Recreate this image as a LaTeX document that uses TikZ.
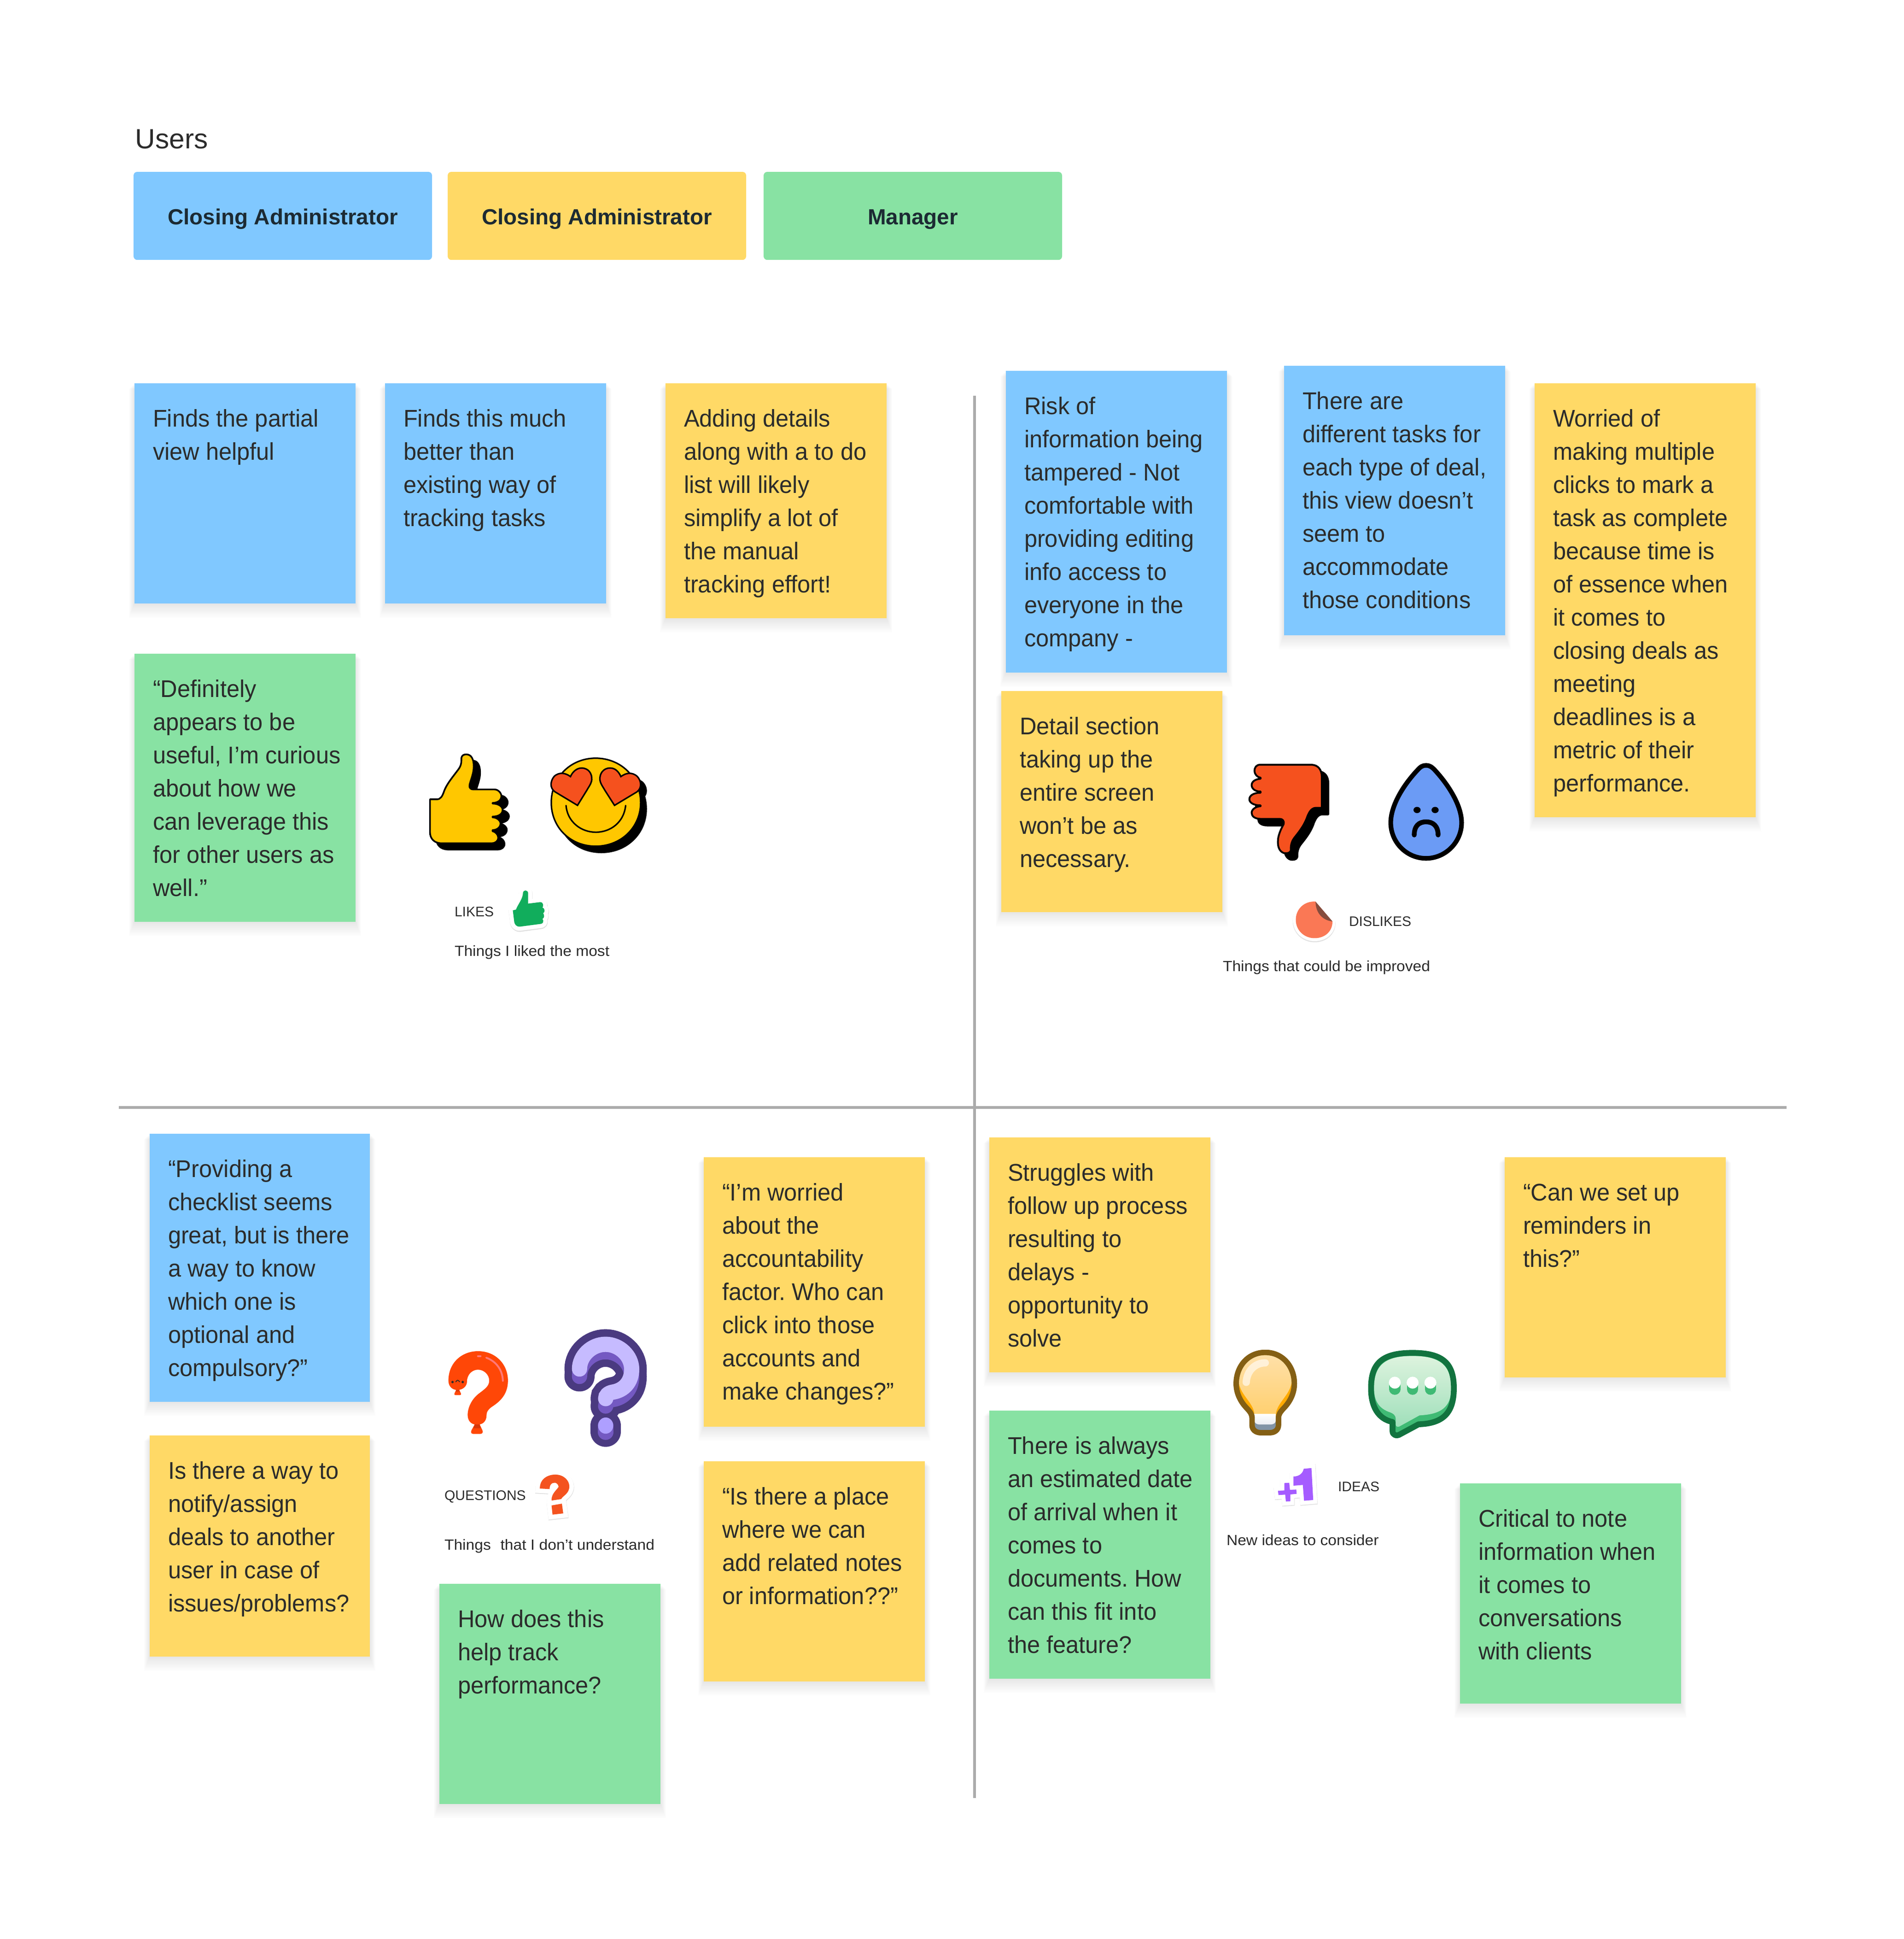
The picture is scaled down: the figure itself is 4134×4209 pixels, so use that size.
\documentclass[tikz,border=0pt]{standalone}
\usepackage{fontspec}
\usetikzlibrary{calc}
\setmainfont{Liberation Sans}
\frenchspacing
\newfontfamily\notefam[FakeStretch=.965]{Liberation Sans}
\newfontfamily\capfam[FakeStretch=1.05]{Liberation Sans}
\definecolor{nblue}{HTML}{80C8FF}
\definecolor{nyellow}{HTML}{FFD966}
\definecolor{ngreen}{HTML}{88E2A3}
\definecolor{ink}{HTML}{2B2B2B}
\definecolor{labelink}{HTML}{1C2A33}
\definecolor{rule}{HTML}{ABABAB}
\definecolor{tred}{HTML}{F5511E}
\definecolor{tyel}{HTML}{FFC700}
\definecolor{pdark}{HTML}{4A3A80}
\definecolor{pmid}{HTML}{7459C2}
\definecolor{plight}{HTML}{C6BBFF}
\definecolor{balloon}{HTML}{FF4707}
\definecolor{cgreen}{HTML}{11AD5C}
\definecolor{cdrop}{HTML}{6B9BF5}
\definecolor{corange}{HTML}{FA7855}
\definecolor{cpeel}{HTML}{854C3D}
\definecolor{cbdark}{HTML}{D6380A}
\definecolor{chigh}{HTML}{FF7878}
\definecolor{cdot}{HTML}{AE9FFF}
\definecolor{csq}{HTML}{F4531F}
\definecolor{cglass}{HTML}{FFAA00}
\definecolor{cgtop}{HTML}{FFE0A8}
\definecolor{cgbot}{HTML}{FFD070}
\definecolor{cbase}{HTML}{8294A6}
\definecolor{csockb}{HTML}{ECEEF2}
\definecolor{cbrown}{HTML}{845F14}
\definecolor{bmid}{HTML}{3FBA74}
\definecolor{btop}{HTML}{DDF3DE}
\definecolor{bbot}{HTML}{9FDFBA}
\definecolor{bdark}{HTML}{12733F}
\definecolor{cone}{HTML}{A55CFF}
\newcommand{\noteline}{\notefam\fontsize{13.1}{18.0}\selectfont}
\newcommand{\stick}[7]{%
  \foreach \i in {1,...,12}{\fill[black,opacity=.009] (#2-\i*1.0,#3+\i*1.0) rectangle (#2+#4+\i*1.0,#3+#5+\i*2.6);}
  \node[notebox,fill=#6,minimum width=#4*.25pt,minimum height=#5*.25pt,anchor=north west] (#1) at (#2,#3) {};
  \node[notetext] (#1t) at ($(#1.north west)+(40,94)$) {\parbox[t]{112pt}{\raggedright\noteline #7}};}
\newcommand{\capt}[4]{\node[captext] (#1) at (#2,#3) {#4};}
\newcommand{\capu}[4]{\node[captext,font=\fontsize{7.5}{10}\selectfont] (#1) at (#2,#3) {#4};}
\tikzset{
  notebox/.style={inner sep=0,outer sep=0},
  notetext/.style={anchor=base west,inner sep=0,outer sep=0,text=ink},
  captext/.style={anchor=base west,inner sep=0,outer sep=0,text=ink,font=\capfam\fontsize{8}{10}\selectfont},
  userbox/.style={rounded corners=2pt,inner sep=0,outer sep=0,minimum width=162pt,minimum height=47.8pt,anchor=north west,text height=9.2pt,text depth=0pt,font=\fontsize{11.9}{15}\selectfont\bfseries,text=labelink},
  axis/.style={draw=rule,line width=1.5pt},
  lw/.style={line width=#1*.09pt}
}
\begin{document}
\begin{tikzpicture}[x=.25pt,y=-.25pt]
\useasboundingbox (0,0) rectangle (4134,4209);
\fill[white] (0,0) rectangle (4134,4209);
\node[anchor=base west,inner sep=0,text=ink,font=\fontsize{15.1}{20}\selectfont] (users) at (293,322) {Users};
\node[userbox,fill=nblue] (u1) at (290,373) {Closing Administrator};
\node[userbox,fill=nyellow] (u2) at (972,373) {Closing Administrator};
\node[userbox,fill=ngreen] (u3) at (1658,373) {Manager};
\coordinate (vt) at (2116,859);
\coordinate (vb) at (2116,3903);
\coordinate (hl) at (258,2404);
\coordinate (hr) at (3879,2404);
\draw[axis] (vt) -- (vb);
\draw[axis] (hl) -- (hr);
\stick{n1}{292}{832}{480}{478}{nblue}{Finds the partial\\view helpful}
\stick{n2}{836}{832}{480}{478}{nblue}{Finds this much\\better than\\existing way of\\tracking tasks}
\stick{n3}{1445}{832}{480}{510}{nyellow}{Adding details\\along with a to do\\list will likely\\simplify a lot of\\the manual\\tracking effort!}
\stick{n4}{292}{1419}{480}{582}{ngreen}{“Definitely\\appears to be\\useful, I’m curious\\about how we\\can leverage this\\for other users as\\well.”}
\stick{n5}{2184}{805}{480}{655}{nblue}{Risk of\\information being\\tampered - Not\\comfortable with\\providing editing\\info access to\\everyone in the\\company -}
\stick{n6}{2788}{794}{480}{585}{nblue}{There are\\different tasks for\\each type of deal,\\this view doesn’t\\seem to\\accommodate\\those conditions}
\stick{n7}{3332}{832}{480}{942}{nyellow}{Worried of\\making multiple\\clicks to mark a\\task as complete\\because time is\\of essence when\\it comes to\\closing deals as\\meeting\\deadlines is a\\metric of their\\performance.}
\stick{n8}{2174}{1500}{480}{480}{nyellow}{Detail section\\taking up the\\entire screen\\won’t be as\\necessary.}
\stick{n9}{325}{2461}{478}{582}{nblue}{“Providing a\\checklist seems\\great, but is there\\a way to know\\which one is\\optional and\\compulsory?”}
\stick{n10}{325}{3116}{478}{480}{nyellow}{Is there a way to\\notify/assign\\deals to another\\user in case of\\issues/problems?}
\stick{n11}{1528}{2512}{480}{585}{nyellow}{“I’m worried\\about the\\accountability\\factor. Who can\\click into those\\accounts and\\make changes?”}
\stick{n12}{1528}{3172}{480}{478}{nyellow}{“Is there a place\\where we can\\add related notes\\or information??”}
\stick{n13}{954}{3438}{480}{478}{ngreen}{How does this\\help track\\performance?}
\stick{n14}{2148}{2469}{480}{510}{nyellow}{Struggles with\\follow up process\\resulting to\\delays -\\opportunity to\\solve}
\stick{n15}{2148}{3062}{480}{582}{ngreen}{There is always\\an estimated date\\of arrival when it\\comes to\\documents. How\\can this fit into\\the feature?}
\stick{n16}{3267}{2512}{480}{478}{nyellow}{“Can we set up\\reminders in\\this?”}
\stick{n17}{3170}{3220}{480}{478}{ngreen}{Critical to note\\information when\\it comes to\\conversations\\with clients}
\capu{c1}{987}{1989}{LIKES}
\capt{c2}{987}{2075}{Things I liked the most}
\capu{c3}{2929}{2010}{DISLIKES}
\capt{c4}{2655}{2108}{Things that could be improved}
\capu{c5}{965}{3256}{QUESTIONS}
\capt{c6}{965}{3364}{Things\hspace{.65em}that I don’t understand}
\capu{c7}{2905}{3237}{IDEAS}
\capt{c8}{2663}{3354}{New ideas to consider}
% likes icons
\begin{scope}[shift={(880,1560)},x=.09567pt,y=-.08929pt]
\def\thumbp{(140,490) -- (180,490) .. controls (200,490) and (210,470) .. (217,450) .. controls (232,400) and (265,360) .. (300,310) .. controls (320,282) and (318,262) .. (318,240) .. controls (320,225) and (330,217) .. (345,217) .. controls (375,217) and (390,245) .. (388,300) .. controls (386,340) and (368,380) .. (364,405) .. controls (362,422) and (372,430) .. (385,430) -- (505,430) .. controls (530,430) and (545,455) .. (545,470) .. controls (545,495) and (525,512) .. (495,512) -- (495,516) .. controls (530,516) and (552,535) .. (552,555) .. controls (552,578) and (530,595) .. (495,595) -- (495,600) .. controls (520,600) and (540,620) .. (540,637) .. controls (540,660) and (520,677) .. (495,677) -- (495,684) .. controls (510,686) and (527,705) .. (527,722) .. controls (527,745) and (510,757) .. (490,757) -- (205,757) .. controls (165,757) and (140,730) .. (140,690) -- cycle}
\draw[fill=black,lw=10,line join=round,shift={(36,38)}] \thumbp;
\draw[fill=tyel,lw=10,line join=round] \thumbp;
\def\facep{(1080,240) .. controls (1225,240) and (1335,360) .. (1335,510) .. controls (1335,660) and (1225,775) .. (1080,775) .. controls (935,775) and (828,660) .. (828,510) .. controls (828,360) and (935,240) .. (1080,240) -- cycle}
\def\hL{(977,527) -- (850,445) .. controls (815,420) and (825,375) .. (845,350) .. controls (875,322) and (910,330) .. (937,352) .. controls (950,320) and (975,300) .. (1000,300) .. controls (1040,300) and (1060,335) .. (1058,370) .. controls (1056,395) and (1040,415) .. (1030,435) -- cycle}
\def\hR{(1187,527) -- (1314,445) .. controls (1345,420) and (1338,375) .. (1315,350) .. controls (1285,322) and (1250,330) .. (1223,352) .. controls (1210,320) and (1190,300) .. (1162,300) .. controls (1122,300) and (1102,335) .. (1104,370) .. controls (1106,395) and (1122,415) .. (1132,435) -- cycle}
\draw[fill=black,lw=9,shift={(32,38)}] \facep;
\draw[fill=black,lw=9,shift={(32,38)}] \hR;
\draw[fill=tyel,lw=9] \facep;
\draw[fill=tred,lw=9,line join=miter] \hL;
\draw[fill=tred,lw=9,line join=miter] \hR;
\draw[lw=9,line cap=round] (912,528) .. controls (920,630) and (1000,690) .. (1080,690) .. controls (1165,690) and (1240,630) .. (1250,528);
\def\smthumb{(610,1165) -- (628,1160) .. controls (640,1125) and (668,1095) .. (668,1055) .. controls (672,1040) and (695,1040) .. (697,1060) -- (697,1124) -- (765,1115) .. controls (785,1115) and (785,1140) .. (778,1148) .. controls (795,1155) and (792,1178) .. (782,1182) .. controls (790,1195) and (790,1210) .. (778,1217) .. controls (788,1230) and (782,1245) .. (770,1247) -- (650,1264) .. controls (630,1265) and (620,1250) .. (618,1235) -- cycle}
\draw[black!25,fill=black!25,lw=52,line join=round,opacity=.5,shift={(1,5)}] \smthumb;
\draw[white,fill=white,lw=50,line join=round] \smthumb;
\fill[cgreen] \smthumb;
\end{scope}
% dislikes icons
\begin{scope}[shift={(2640,1600)},x=.10204pt,y=-.08929pt]
\def\thumbd{(235,168) -- (510,168) .. controls (545,170) and (563,200) .. (563,240) -- (563,430) -- (530,430) .. controls (505,432) and (495,460) .. (487,480) .. controls (470,540) and (435,585) .. (415,615) .. controls (400,640) and (398,660) .. (398,690) .. controls (395,705) and (375,708) .. (362,705) .. controls (335,695) and (328,660) .. (330,630) .. controls (330,600) and (345,560) .. (360,530) .. controls (365,510) and (355,497) .. (340,497) -- (238,497) .. controls (205,497) and (190,480) .. (190,460) .. controls (190,440) and (210,422) .. (238,420) -- (238,415) .. controls (195,415) and (178,395) .. (178,378) .. controls (178,355) and (200,338) .. (238,338) -- (238,331) .. controls (205,331) and (190,310) .. (190,292) .. controls (190,270) and (210,255) .. (238,253) -- (238,247) .. controls (220,245) and (205,225) .. (205,205) .. controls (205,185) and (215,168) .. (235,168) -- cycle}
\draw[fill=black,lw=11,line join=round,shift={(35,40)}] \thumbd;
\draw[fill=tred,lw=11,line join=round] \thumbd;
\draw[fill=cdrop,lw=28,line join=round] (1118,172) .. controls (1140,172) and (1150,185) .. (1160,195) .. controls (1230,280) and (1307,410) .. (1307,520) .. controls (1307,640) and (1220,737) .. (1118,737) .. controls (1015,737) and (930,640) .. (930,520) .. controls (930,410) and (1005,280) .. (1077,195) .. controls (1087,183) and (1097,172) .. (1118,172) -- cycle;
\fill (1070,443) circle[radius=19];
\fill (1166,443) circle[radius=19];
\draw[lw=29,line cap=round] (1055,595) .. controls (1055,540) and (1080,515) .. (1118,515) .. controls (1155,515) and (1182,540) .. (1182,595);
\def\peel{(530,1000) .. controls (470,995) and (425,1045) .. (425,1110) .. controls (425,1175) and (470,1222) .. (525,1222) .. controls (580,1222) and (620,1180) .. (620,1122) -- cycle}
\draw[black!25,fill=black!25,lw=38,line join=round,opacity=.45,shift={(0,6)}] \peel;
\draw[white,fill=white,lw=36,line join=round] \peel;
\fill[corange] \peel;
\fill[cpeel] (530,1000) -- (620,1120) .. controls (570,1115) and (530,1070) .. (530,1000) -- cycle;
\end{scope}
% question icons
\begin{scope}[shift={(920,2840)},x=.08929pt,y=-.09567pt]
\fill[balloon] (150,410) .. controls (150,310) and (230,243) .. (330,243) .. controls (440,243) and (512,320) .. (512,410) .. controls (512,490) and (460,530) .. (420,555) .. controls (395,570) and (382,585) .. (382,605) .. controls (382,640) and (360,660) .. (325,660) .. controls (285,660) and (267,635) .. (267,605) .. controls (267,560) and (295,510) .. (340,480) .. controls (375,455) and (398,440) .. (398,410) .. controls (398,375) and (365,348) .. (330,348) .. controls (295,348) and (263,375) .. (263,415) .. controls (263,440) and (240,463) .. (205,463) .. controls (170,463) and (150,440) .. (150,410) -- cycle;
\fill[balloon] (310,658) -- (340,658) -- (357,692) .. controls (362,705) and (355,712) .. (345,712) -- (300,712) .. controls (290,712) and (285,705) .. (290,692) -- cycle;
\fill[cbdark] (310,658) -- (340,658) -- (346,680) -- (302,680) -- cycle;
\fill[balloon] (197,463) -- (216,463) -- (226,482) .. controls (228,490) and (225,492) .. (220,492) -- (193,492) .. controls (187,492) and (185,490) .. (187,482) -- cycle;
\fill[cbdark] (197,463) -- (216,463) -- (219,472) -- (194,472) -- cycle;
\draw[chigh,lw=11,line cap=round] (380,280) .. controls (440,300) and (480,350) .. (481,412);
\draw[chigh,lw=12,line cap=round] (330,271) -- (345,271);
\fill[ink] (175,418) circle[radius=7];
\fill[ink] (237,418) circle[radius=7];
\draw[ink,lw=5,line cap=round] (195,417) .. controls (203,405) and (210,405) .. (218,417);
% purple
\def\qm{(947,344) .. controls (947,270) and (1020,204) .. (1105,204) .. controls (1190,204) and (1264,270) .. (1264,345) .. controls (1264,420) and (1215,465) .. (1150,475) .. controls (1120,480) and (1106,495) .. (1106,512)}
\draw[pdark,lw=182,line cap=round] \qm;
\draw[pdark,lw=182,line cap=round,shift={(0,42)}] \qm;
\draw[pdark,lw=182,line cap=round] (1106,665) -- (1106,700);
\draw[pmid,lw=92,line cap=round,shift={(0,42)}] \qm;
\draw[pmid,lw=92,line cap=round] (1106,665) -- (1106,703);
\draw[plight,lw=92,line cap=round] \qm;
\fill[cdot] (1106,665) circle[radius=46];
% small question
\def\smq{(706,1022) .. controls (705,970) and (750,943) .. (800,943) .. controls (850,943) and (885,975) .. (885,1010) .. controls (885,1050) and (850,1060) .. (835,1082) -- (777,1090) .. controls (775,1050) and (810,1030) .. (820,1012) .. controls (818,995) and (800,985) .. (790,990) .. controls (770,992) and (765,1010) .. (765,1025) -- cycle (777,1118) -- (840,1108) -- (848,1163) -- (783,1170) -- cycle}
\draw[black!25,fill=black!25,lw=56,line join=miter,opacity=.45,shift={(1,4)}] \smq;
\draw[white,fill=white,lw=54,line join=miter] \smq;
\fill[csq] \smq;
\end{scope}
% idea icons
\begin{scope}[shift={(2640,2880)},x=.09567pt,y=-.08333pt]
\def\bulb{(280,167) .. controls (380,167) and (445,260) .. (445,370) .. controls (445,440) and (415,495) .. (385,530) .. controls (365,555) and (355,570) .. (355,595) -- (355,640) .. controls (355,670) and (335,690) .. (305,690) -- (255,690) .. controls (225,690) and (205,670) .. (205,640) -- (205,595) .. controls (205,570) and (195,555) .. (175,530) .. controls (145,495) and (115,440) .. (115,370) .. controls (115,260) and (180,167) .. (280,167) -- cycle}
\fill[cglass] \bulb;
\shade[top color=cgtop,bottom color=cgbot] (280,184) .. controls (370,184) and (431,265) .. (431,340) .. controls (431,440) and (345,490) .. (340,570) -- (218,570) .. controls (215,490) and (128,440) .. (128,340) .. controls (128,265) and (190,184) .. (280,184) -- cycle;
\fill[cbase] (218,567) rectangle (340,680);
\shade[top color=white,bottom color=csockb] (218,567) -- (340,567) -- (340,610) .. controls (340,628) and (325,636) .. (312,636) -- (246,636) .. controls (232,636) and (218,628) .. (218,610) -- cycle;
\draw[white,opacity=.6,lw=44,line cap=round] (172,362) .. controls (175,290) and (220,235) .. (280,235);
\draw[cbrown,lw=33,line join=round] \bulb;
% bubble
\def\bub{(1115,170) .. controls (1290,170) and (1350,240) .. (1350,400) .. controls (1350,560) and (1290,630) .. (1150,635) -- (1045,700) .. controls (1025,715) and (1002,705) .. (1002,680) -- (1002,620) .. controls (920,600) and (880,520) .. (880,400) .. controls (880,240) and (940,170) .. (1115,170) -- cycle}
\fill[bmid] \bub;
\shade[top color=btop,bottom color=bbot] (1115,190) .. controls (1270,190) and (1335,250) .. (1335,400) .. controls (1335,530) and (1270,570) .. (1155,577) -- (1040,650) .. controls (1025,655) and (1020,645) .. (1020,635) -- (1020,600) .. controls (1020,575) and (1005,565) .. (990,558) .. controls (930,535) and (897,490) .. (897,400) .. controls (897,250) and (960,190) .. (1115,190) -- cycle;
\draw[bdark,lw=35,line join=round] \bub;
\foreach \dx in {1015,1116,1217}{
  \draw[bmid,lw=67,line cap=round] (\dx,365) -- (\dx,407);
  \fill[white] (\dx,364) ellipse[x radius=34,y radius=39];
}
% plus one
\def\one{(440,1035) -- (440,975) .. controls (480,975) and (495,945) .. (498,925) -- (542,920) -- (552,1128) -- (500,1133) -- (493,1030) -- cycle (352,1068) -- (388,1066) -- (388,1018) -- (416,1016) -- (420,1062) -- (456,1060) -- (458,1088) -- (422,1092) -- (422,1136) -- (397,1138) -- (393,1093) -- (355,1096) -- cycle}
\draw[black!25,fill=black!25,lw=50,line join=miter,opacity=.45,shift={(1,4)}] \one;
\draw[white,fill=white,lw=48,line join=miter] \one;
\fill[cone] \one;
\end{scope}
\end{tikzpicture}
\end{document}
